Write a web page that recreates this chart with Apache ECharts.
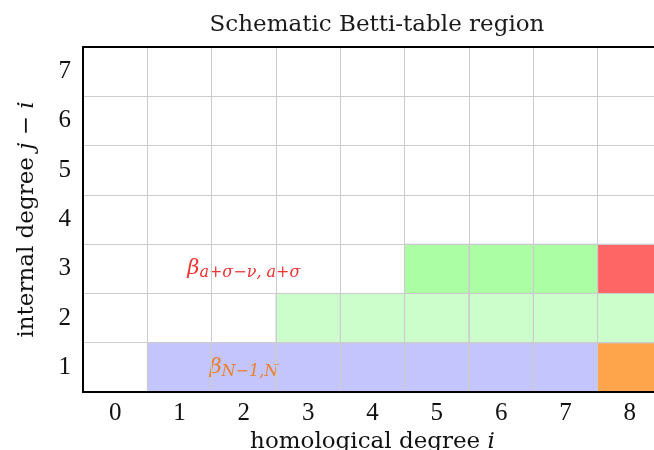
<!DOCTYPE html>
<html><head><meta charset="utf-8">
<script src="https://cdn.jsdelivr.net/npm/echarts@6/dist/echarts.min.js"></script>
<style>html,body{margin:0;padding:0;background:#fff}#c{width:654px;height:450px}</style>
</head><body><div id="c"></div>
<script>
const xCategories = ['0','1','2','3','4','5','6','7','8'];
const yCategories = ['1','2','3','4','5','6','7'];
// cells: [homological degree i, internal degree j-i]
const blueCells = [[1,1],[2,1],[3,1],[4,1],[5,1],[6,1],[7,1]];
const orangeCells = [[8,1]];
const lightGreenCells = [[3,2],[4,2],[5,2],[6,2],[7,2],[8,2]];
const greenCells = [[5,3],[6,3],[7,3]];
const redCells = [[8,3]];
const labelPoints = [[2,3,'a+σ−ν, a+σ','red'],[2,1,'N−1,N','orange']];

const FONT = 'Liberation Serif';
const FONT2 = 'DejaVu Serif';
function toCat(d){ return [String(d[0]), String(d[1])]; }
function cellSeries(data, color){
  return {
    type:'custom', data: data.map(toCat),
    renderItem: function(params, api){
      const p = api.coord([api.value(0), api.value(1)]);
      const s = api.size([1,1]);
      return {type:'rect', shape:{x:p[0]-s[0]/2, y:p[1]-s[1]/2, width:s[0], height:s[1]},
        style:{fill:color, stroke:'#cccccc', lineWidth:1}};
    },
    z:2, silent:true
  };
}
const labelColors = {red:'#ee3333', orange:'#e8802a'};
const nameRich = {n:{fontFamily:FONT2, fontSize:23, color:'#111'}, i:{fontFamily:FONT2, fontSize:23, fontStyle:'italic', color:'#111'}};
const chart = echarts.init(document.getElementById('c'));
chart.setOption({
  animation:false,
  title:{text:'Schematic Betti-table region', left:372, textAlign:'center', top:9,
    textStyle:{fontFamily:FONT2, fontWeight:'normal', fontSize:23, color:'#1a1a1a'}},
  grid:{left:83, top:47, width:579, height:345, show:false, containLabel:false, outerBoundsMode:'none'},
  xAxis:[{type:'category', data:xCategories, boundaryGap:true, z:10,
    axisLine:{show:true, onZero:false, lineStyle:{color:'#000', width:2}}, axisTick:{show:false},
    splitLine:{show:true, interval:0, lineStyle:{color:'#cccccc', width:1}},
    axisLabel:{fontFamily:FONT, fontSize:25, color:'#111', margin:9, interval:0},
    name:'{n|homological degree }{i|i}', nameLocation:'middle', nameGap:34,
    nameTextStyle:{rich:nameRich}
  },{type:'category', data:xCategories, position:'top', z:10,
    axisLine:{show:true, onZero:false, lineStyle:{color:'#000', width:2}}, axisTick:{show:false},
    axisLabel:{show:false}, splitLine:{show:false}}],
  yAxis:{type:'category', data:yCategories, boundaryGap:true, z:10,
    axisLine:{show:true, onZero:false, lineStyle:{color:'#000', width:2}}, axisTick:{show:false},
    splitLine:{show:true, interval:0, lineStyle:{color:'#cccccc', width:1}},
    axisLabel:{fontFamily:FONT, fontSize:25, color:'#111', margin:12, interval:0},
    name:'{n|internal degree }{i|j}{n| − }{i|i}', nameLocation:'middle', nameGap:44, nameRotate:90,
    nameTextStyle:{rich:nameRich}
  },
  series:[
    cellSeries(blueCells,'#c5c5fe'),
    cellSeries(orangeCells,'#fea54c'),
    cellSeries(lightGreenCells,'#ccfecc'),
    cellSeries(greenCells,'#abfea4'),
    cellSeries(redCells,'#fe6565'),
    {type:'custom', data:labelPoints.map(d=>[String(d[0]),String(d[1])]), z:5, silent:true,
      renderItem:function(params, api){
        const d = labelPoints[params.dataIndex];
        const p = api.coord([api.value(0), api.value(1)]);
        const c = labelColors[d[3]];
        return {type:'text', x:p[0], y:p[1], style:{
          text:'{b|β}{s|'+d[2]+'}', align:'center', verticalAlign:'middle',
          rich:{b:{fontFamily:FONT2, fontStyle:'italic', fontSize:21, fill:c, color:c},
                s:{fontFamily:FONT2, fontStyle:'italic', fontSize:16, fill:c, color:c, padding:[8,0,0,0]}}
        }};
      }}
  ]
});
</script></body></html>
